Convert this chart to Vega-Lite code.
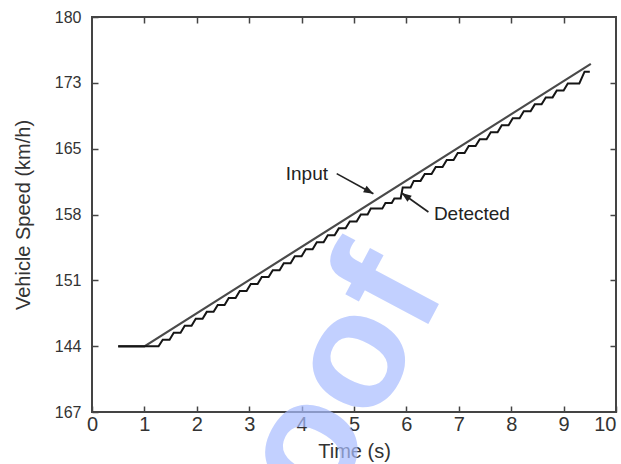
{
  "$schema": "https://vega.github.io/schema/vega-lite/v6.json",
  "width": 524,
  "height": 395,
  "autosize": "none",
  "padding": {"left": 92, "top": 17, "right": 5, "bottom": 52},
  "background": "white",
  "config": {
    "view": {"stroke": "#444", "strokeWidth": 2},
    "axis": {"domain": false, "grid": false, "tickColor": "#444", "tickWidth": 1.5, "tickSize": -6, "labelColor": "#333", "titleColor": "#333", "labelFont": "Liberation Sans", "titleFont": "Liberation Sans", "titleFontWeight": "normal"},
    "text": {"font": "Liberation Sans"}
  },
  "datasets": {
    "input": [
      {"t": 0.5, "v": 144.15}, {"t": 1.0, "v": 144.15}, {"t": 9.52, "v": 174.9}
    ],
    "detected": [
      {"t": 0.50, "v": 144.15}, {"t": 1.27, "v": 144.15}, {"t": 1.35, "v": 144.86}, {"t": 1.48, "v": 144.86},
      {"t": 1.56, "v": 145.62}, {"t": 1.69, "v": 145.62}, {"t": 1.77, "v": 146.38}, {"t": 1.90, "v": 146.38},
      {"t": 1.98, "v": 147.14}, {"t": 2.11, "v": 147.14}, {"t": 2.19, "v": 147.90}, {"t": 2.32, "v": 147.90},
      {"t": 2.40, "v": 148.65}, {"t": 2.53, "v": 148.65}, {"t": 2.61, "v": 149.41}, {"t": 2.74, "v": 149.41},
      {"t": 2.82, "v": 150.17}, {"t": 2.95, "v": 150.17}, {"t": 3.03, "v": 150.93}, {"t": 3.16, "v": 150.93},
      {"t": 3.24, "v": 151.69}, {"t": 3.37, "v": 151.69}, {"t": 3.45, "v": 152.44}, {"t": 3.58, "v": 152.44},
      {"t": 3.66, "v": 153.20}, {"t": 3.79, "v": 153.20}, {"t": 3.87, "v": 153.96}, {"t": 4.00, "v": 153.96},
      {"t": 4.08, "v": 154.72}, {"t": 4.21, "v": 154.72}, {"t": 4.29, "v": 155.48}, {"t": 4.42, "v": 155.48},
      {"t": 4.50, "v": 156.24}, {"t": 4.63, "v": 156.24}, {"t": 4.71, "v": 156.99}, {"t": 4.84, "v": 156.99},
      {"t": 4.92, "v": 157.75}, {"t": 5.05, "v": 157.75}, {"t": 5.13, "v": 158.51}, {"t": 5.26, "v": 158.51},
      {"t": 5.32, "v": 159.14}, {"t": 5.54, "v": 159.14}, {"t": 5.60, "v": 159.75}, {"t": 5.72, "v": 159.75},
      {"t": 5.77, "v": 160.25}, {"t": 5.89, "v": 160.25}, {"t": 5.93, "v": 161.45}, {"t": 6.08, "v": 161.45},
      {"t": 6.14, "v": 162.16}, {"t": 6.27, "v": 162.16}, {"t": 6.35, "v": 162.91}, {"t": 6.48, "v": 162.91},
      {"t": 6.56, "v": 163.67}, {"t": 6.69, "v": 163.67}, {"t": 6.77, "v": 164.43}, {"t": 6.90, "v": 164.43},
      {"t": 6.98, "v": 165.19}, {"t": 7.11, "v": 165.19}, {"t": 7.19, "v": 165.95}, {"t": 7.32, "v": 165.95},
      {"t": 7.40, "v": 166.70}, {"t": 7.53, "v": 166.70}, {"t": 7.61, "v": 167.46}, {"t": 7.74, "v": 167.46},
      {"t": 7.82, "v": 168.22}, {"t": 7.95, "v": 168.22}, {"t": 8.03, "v": 168.98}, {"t": 8.16, "v": 168.98},
      {"t": 8.24, "v": 169.74}, {"t": 8.37, "v": 169.74}, {"t": 8.45, "v": 170.49}, {"t": 8.58, "v": 170.49},
      {"t": 8.66, "v": 171.25}, {"t": 8.79, "v": 171.25}, {"t": 8.87, "v": 172.01}, {"t": 9.00, "v": 172.01},
      {"t": 9.08, "v": 172.77}, {"t": 9.30, "v": 172.77}, {"t": 9.40, "v": 174.05}, {"t": 9.50, "v": 174.05}
    ],
    "notes": [
      {"text": "Input", "t": 4.10, "v": 162.88},
      {"text": "Detected", "t": 7.25, "v": 158.6}
    ],
    "arrows": [
      {"name": "Input", "t": 4.67, "v": 162.95, "t2": 5.37, "v2": 160.77},
      {"name": "Detected", "t": 6.42, "v": 158.77, "t2": 5.91, "v2": 160.84}
    ],
    "watermark": [
      {"text": "Proof", "t": 6.77, "v": 150.36}
    ]
  },
  "resolve": {"axis": {"x": "independent", "y": "independent"}},
  "layer": [
    {
      "data": {"name": "input"},
      "mark": {"type": "line", "color": "#4a4a4a", "strokeWidth": 2.2},
      "encoding": {
        "x": {"field": "t", "type": "quantitative",
          "scale": {"domain": [0, 10], "nice": false, "zero": false},
          "axis": {"orient": "bottom", "values": [0,1,2,3,4,5,6,7,8,9,10], "title": "Time (s)", "labelFontSize": 20, "labelPadding": 8, "labelFlush": false,
            "labelAlign": {"condition": {"test": "datum.value >= 10", "value": "right"}, "value": "center"},
            "titleFontSize": 20, "titlePadding": 7}},
        "y": {"field": "v", "type": "quantitative",
          "scale": {"domain": [137, 180], "nice": false, "zero": false},
          "axis": {"orient": "left", "values": [137, 144.1667, 151.3333, 158.5, 165.6667, 172.8333, 180],
            "labelExpr": "datum.value < 140 ? '167' : datum.value < 147 ? '144' : datum.value < 155 ? '151' : datum.value < 162 ? '158' : datum.value < 169 ? '165' : datum.value < 176 ? '173' : '180'",
            "labelFontSize": 16, "labelPadding": 17, "labelFlush": false, "title": "Vehicle Speed (km/h)", "titleFontSize": 20, "titlePadding": 21}}
      }
    },
    {
      "data": {"name": "detected"},
      "mark": {"type": "line", "color": "#151515", "strokeWidth": 2},
      "encoding": {
        "x": {"field": "t", "type": "quantitative",
          "scale": {"domain": [0, 10], "nice": false, "zero": false},
          "axis": {"orient": "top", "values": [1,2,3,4,5,6,7,8,9], "labels": false, "title": null}},
        "y": {"field": "v", "type": "quantitative",
          "scale": {"domain": [137, 180], "nice": false, "zero": false},
          "axis": {"orient": "right", "values": [144.1667, 151.3333, 158.5, 165.6667, 172.8333], "labels": false, "title": null}}
      }
    },
    {
      "data": {"name": "arrows"},
      "mark": {"type": "rule", "color": "#222", "strokeWidth": 1.7},
      "encoding": {
        "x": {"field": "t", "type": "quantitative", "axis": null},
        "y": {"field": "v", "type": "quantitative", "axis": null},
        "x2": {"field": "t2"},
        "y2": {"field": "v2"}
      }
    },
    {
      "data": {"name": "arrows"},
      "mark": {"type": "point", "shape": "M0,0L-1,-0.38L-1,0.38Z", "filled": true, "color": "#222", "opacity": 1, "size": 380},
      "encoding": {
        "x": {"field": "t2", "type": "quantitative", "axis": null},
        "y": {"field": "v2", "type": "quantitative", "axis": null},
        "angle": {"condition": {"test": "datum.name === 'Input'", "value": 28.6}, "value": 215.5}
      }
    },
    {
      "data": {"name": "notes"},
      "mark": {"type": "text", "fontSize": 19, "color": "#222", "align": "center", "baseline": "middle"},
      "encoding": {
        "x": {"field": "t", "type": "quantitative", "axis": null},
        "y": {"field": "v", "type": "quantitative", "axis": null},
        "text": {"field": "text"}
      }
    },
    {
      "data": {"name": "watermark"},
      "mark": {"type": "text", "fontSize": 165, "fontWeight": "bold", "color": "#a9bdff", "opacity": 0.7, "align": "right", "baseline": "alphabetic", "angle": -62},
      "encoding": {
        "x": {"field": "t", "type": "quantitative", "axis": null},
        "y": {"field": "v", "type": "quantitative", "axis": null},
        "text": {"field": "text"}
      }
    }
  ]
}
